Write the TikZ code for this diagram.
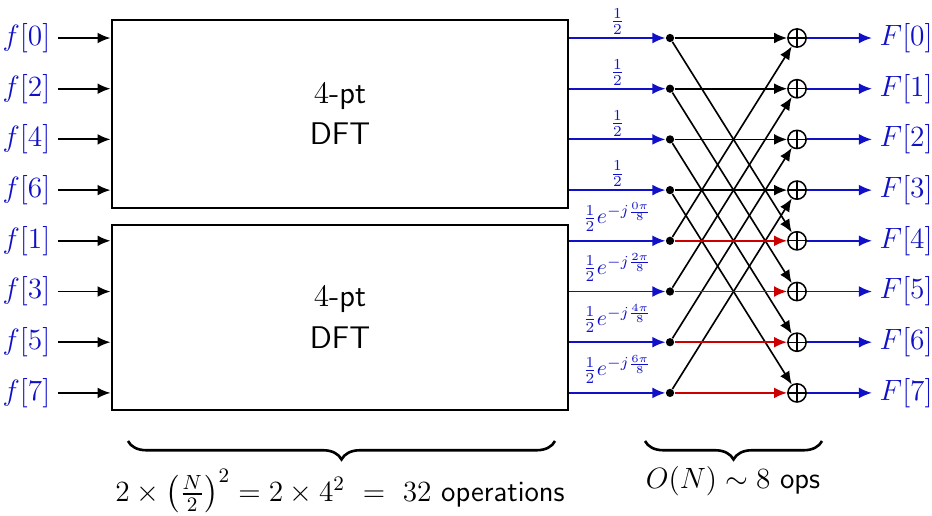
\RequirePackage{fix-cm}
\documentclass[tikz,border=0pt]{standalone}
\usepackage{amsmath}
\usepackage{xcolor}
\usepackage{tikz}
\usetikzlibrary{arrows.meta,calc,positioning,decorations.pathreplacing}
\definecolor{Ink}{HTML}{000000}
\definecolor{SigBlue}{HTML}{1010C8}
\definecolor{SigRed}{HTML}{CC0000}
\tikzset{
  dftbox/.style={draw=Ink,line width=1.3pt,align=center,font=\Large\sffamily,inner sep=0pt},
  inlabel/.style={anchor=east,font=\fontsize{13.5}{16}\selectfont,text=SigBlue},
  outlabel/.style={anchor=west,font=\fontsize{13.5}{16}\selectfont,text=SigBlue},
  weightlabel/.style={font=\normalsize,text=SigBlue,inner sep=1pt},
  inarrow/.style={line width=0.9pt,Ink,-{Latex[length=6pt,width=5pt]}},
  sigline/.style={line width=0.9pt,SigBlue,-{Latex[length=6pt,width=5pt]}},
  butterfly/.style={line width=0.75pt,Ink,-{Latex[length=6pt,width=5pt]}},
  twiddle/.style={line width=0.9pt,SigRed,-{Latex[length=6pt,width=5pt]}},
  splitdot/.style={circle,fill=Ink,inner sep=0pt,minimum size=3.8pt},
  sumnode/.style={circle,draw=Ink,line width=0.7pt,inner sep=0pt,minimum size=8.4pt,
    path picture={\draw[line width=0.6pt] (path picture bounding box.north) -- (path picture bounding box.south)
      (path picture bounding box.west) -- (path picture bounding box.east);}},
  costbrace/.style={line width=1.2pt,Ink,decorate,decoration={brace,mirror,amplitude=8.5pt}},
  costnote/.style={font=\fontsize{13.5}{16}\selectfont}
}
\begin{document}
\begin{tikzpicture}[x=0.46pt,y=-0.46pt]
  \useasboundingbox (0,0) rectangle (932,515);

  % the two half-length transforms
  \node[dftbox,minimum width=209.8pt,minimum height=86.5pt] (dfttop) at (340,114) {$4$-pt\\[1pt]DFT};
  \node[dftbox,minimum width=209.8pt,minimum height=85.1pt] (dftbot) at (340,317.5) {$4$-pt\\[1pt]DFT};

  \node[inlabel] (f0) at (58,38) {$f[0]$};
  \node[inlabel] (f2) at (58,88.7) {$f[2]$};
  \node[inlabel] (f4) at (58,139.4) {$f[4]$};
  \node[inlabel] (f6) at (58,190.1) {$f[6]$};
  \node[inlabel] (f1) at (58,240.8) {$f[1]$};
  \node[inlabel] (f3) at (58,291.5) {$f[3]$};
  \node[inlabel] (f5) at (58,342.2) {$f[5]$};
  \node[inlabel] (f7) at (58,392.9) {$f[7]$};
  \draw[inarrow] (f0) -- (dfttop.west |- f0);
  \draw[inarrow] (f2) -- (dfttop.west |- f2);
  \draw[inarrow] (f4) -- (dfttop.west |- f4);
  \draw[inarrow] (f6) -- (dfttop.west |- f6);
  \draw[inarrow] (f1) -- (dftbot.west |- f1);
  \draw[inarrow] (f3) -- (dftbot.west |- f3);
  \draw[inarrow] (f5) -- (dftbot.west |- f5);
  \draw[inarrow] (f7) -- (dftbot.west |- f7);

  % split points and adders
  \node[splitdot] (d0) at (670,38) {};
  \node[splitdot] (d1) at (670,88.7) {};
  \node[splitdot] (d2) at (670,139.4) {};
  \node[splitdot] (d3) at (670,190.1) {};
  \node[splitdot] (d4) at (670,240.8) {};
  \node[splitdot] (d5) at (670,291.5) {};
  \node[splitdot] (d6) at (670,342.2) {};
  \node[splitdot] (d7) at (670,392.9) {};
  \node[sumnode] (s0) at (797,38) {};
  \node[sumnode] (s1) at (797,88.7) {};
  \node[sumnode] (s2) at (797,139.4) {};
  \node[sumnode] (s3) at (797,190.1) {};
  \node[sumnode] (s4) at (797,240.8) {};
  \node[sumnode] (s5) at (797,291.5) {};
  \node[sumnode] (s6) at (797,342.2) {};
  \node[sumnode] (s7) at (797,392.9) {};

  \draw[sigline] (dfttop.east |- d0) -- node[weightlabel,above] {$\frac{1}{2}$} (d0);
  \draw[sigline] (dfttop.east |- d1) -- node[weightlabel,above] {$\frac{1}{2}$} (d1);
  \draw[sigline] (dfttop.east |- d2) -- node[weightlabel,above] {$\frac{1}{2}$} (d2);
  \draw[sigline] (dfttop.east |- d3) -- node[weightlabel,above] {$\frac{1}{2}$} (d3);
  \draw[sigline] (dftbot.east |- d4) -- node[weightlabel,above=3pt] {$\frac{1}{2}e^{-j\frac{0\pi}{8}}$} (d4);
  \draw[sigline] (dftbot.east |- d5) -- node[weightlabel,above=3pt] {$\frac{1}{2}e^{-j\frac{2\pi}{8}}$} (d5);
  \draw[sigline] (dftbot.east |- d6) -- node[weightlabel,above=3pt] {$\frac{1}{2}e^{-j\frac{4\pi}{8}}$} (d6);
  \draw[sigline] (dftbot.east |- d7) -- node[weightlabel,above=3pt] {$\frac{1}{2}e^{-j\frac{6\pi}{8}}$} (d7);

  % butterfly stage
  \draw[butterfly] (d0) -- (s0);
  \draw[butterfly] (d1) -- (s1);
  \draw[butterfly] (d2) -- (s2);
  \draw[butterfly] (d3) -- (s3);
  \draw[butterfly] (d0) -- (s4);
  \draw[butterfly] (d1) -- (s5);
  \draw[butterfly] (d2) -- (s6);
  \draw[butterfly] (d3) -- (s7);
  \draw[butterfly] (d4) -- (s0);
  \draw[butterfly] (d5) -- (s1);
  \draw[butterfly] (d6) -- (s2);
  \draw[butterfly] (d7) -- (s3);
  \draw[twiddle] (d4) -- (s4);
  \draw[twiddle] (d5) -- (s5);
  \draw[twiddle] (d6) -- (s6);
  \draw[twiddle] (d7) -- (s7);

  \node[outlabel] (F0) at (872,38) {$F[0]$};
  \node[outlabel] (F1) at (872,88.7) {$F[1]$};
  \node[outlabel] (F2) at (872,139.4) {$F[2]$};
  \node[outlabel] (F3) at (872,190.1) {$F[3]$};
  \node[outlabel] (F4) at (872,240.8) {$F[4]$};
  \node[outlabel] (F5) at (872,291.5) {$F[5]$};
  \node[outlabel] (F6) at (872,342.2) {$F[6]$};
  \node[outlabel] (F7) at (872,392.9) {$F[7]$};
  \draw[sigline] (s0) -- (F0);
  \draw[sigline] (s1) -- (F1);
  \draw[sigline] (s2) -- (F2);
  \draw[sigline] (s3) -- (F3);
  \draw[sigline] (s4) -- (F4);
  \draw[sigline] (s5) -- (F5);
  \draw[sigline] (s6) -- (F6);
  \draw[sigline] (s7) -- (F7);

  % operation counts
  \coordinate (dftL) at (128,441);
  \coordinate (dftR) at (555,441);
  \coordinate (bflyL) at (645,441);
  \coordinate (bflyR) at (822,441);
  \draw[costbrace] (dftL) -- (dftR);
  \draw[costbrace] (bflyL) -- (bflyR);
  \node[costnote] (dftcost) at (340,491) {$2\times\left(\frac{N}{2}\right)^2=2\times4^2\ =\ 32$ \textsf{operations}};
  \node[costnote] (bflycost) at (733,481) {$O(N)\sim8$ \textsf{ops}};
\end{tikzpicture}
\end{document}
